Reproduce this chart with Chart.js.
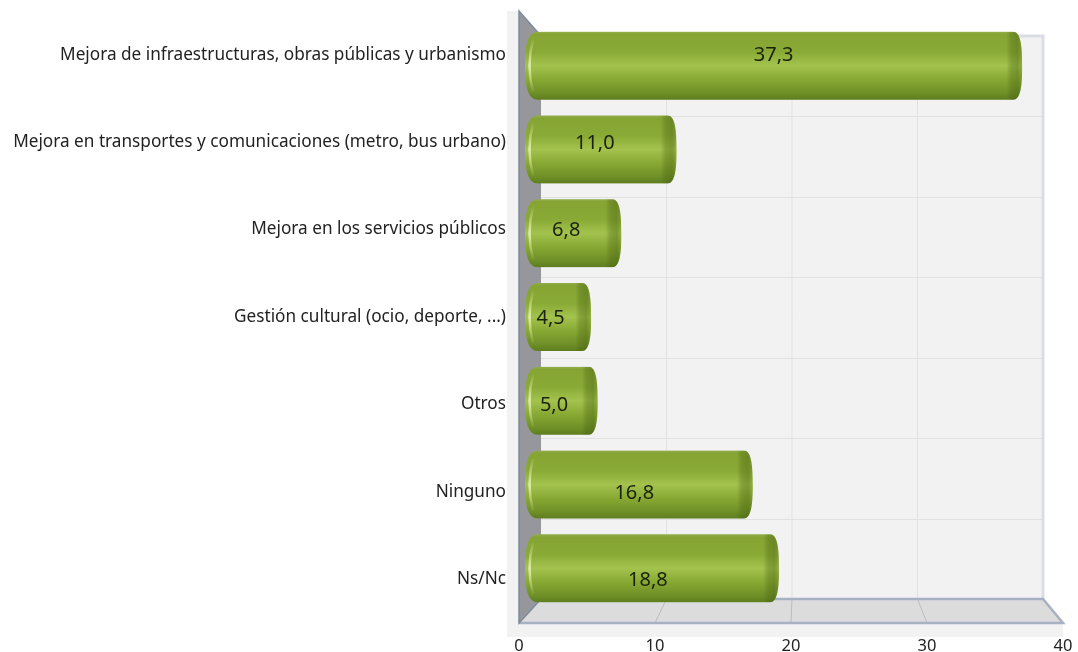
<!DOCTYPE html>
<html lang="es">
<head>
<meta charset="utf-8">
<title>Mejoras</title>
<script src="https://cdn.jsdelivr.net/npm/chart.js@4"></script>
<style>
  html, body { margin: 0; background: #fff; }
  canvas { display: block; }
</style>
</head>
<body>
<canvas id="chart" width="1078" height="652"></canvas>
<script>
"use strict";

// ── Data ────────────────────────────────────────────────────────────────────
const CATEGORIES = [
  "Mejora de infraestructuras, obras públicas y urbanismo",
  "Mejora en transportes y comunicaciones (metro, bus urbano)",
  "Mejora en los servicios públicos",
  "Gestión cultural (ocio, deporte, ...)",
  "Otros",
  "Ninguno",
  "Ns/Nc",
];
const VALUES = [37.3, 11.0, 6.8, 4.5, 5.0, 16.8, 18.8];
const X_MIN = 0;
const X_MAX = 40;
const X_STEP = 10;

// ── Fake 3D box, in canvas pixels ───────────────────────────────────────────
const FONT = "'Noto Sans', sans-serif";
const BOX = { backLeft: 541, backRight: 1043, backTop: 36, backBottom: 599 };
const BAR_THICKNESS = 68;

// the x scale is the front edge of the floor, this maps it onto the back wall
function toBack(x, area) {
  const t = (x - area.left) / (area.right - area.left);
  return BOX.backLeft + t * (BOX.backRight - BOX.backLeft);
}

function capsule(ctx, x0, x1, top, bot) {
  const cy = (top + bot) / 2;
  const h = bot - top;
  const rl = 13, rr = 9;
  ctx.moveTo(x0 + rl, top);
  ctx.lineTo(x1 - rr, top);
  ctx.bezierCurveTo(x1 - rr * 0.2, top, x1, top + h * 0.2, x1, cy);
  ctx.bezierCurveTo(x1, bot - h * 0.2, x1 - rr * 0.2, bot, x1 - rr, bot);
  ctx.lineTo(x0 + rl, bot);
  ctx.bezierCurveTo(x0 + rl * 0.2, bot, x0, bot - h * 0.2, x0, cy);
  ctx.bezierCurveTo(x0, top + h * 0.2, x0 + rl * 0.2, top, x0 + rl, top);
  ctx.closePath();
}

// chart.js adds the tick overhang on top of layout.padding, we want exact edges
function noOverhang(s) {
  s.paddingLeft = s.paddingRight = s.paddingTop = s.paddingBottom = 0;
}

// ── Plugin: walls and floor behind the bars ─────────────────────────────────
const boxPlugin = {
  id: "box",
  beforeDatasetsDraw(chart) {
    const { ctx, chartArea: a, scales } = chart;
    const { backLeft, backRight, backTop, backBottom } = BOX;
    ctx.save();

    // pale strip left of the side wall and under the floor
    ctx.fillStyle = "#f2f2f2";
    ctx.fillRect(507, a.top, a.left - 507, a.bottom - a.top);
    ctx.fillRect(507, a.bottom, a.right - 507, 14);

    // back wall
    ctx.fillStyle = "#f2f2f2";
    ctx.fillRect(backLeft, backTop, backRight - backLeft, backBottom - backTop);

    // horizontal grid on the back wall
    ctx.strokeStyle = "#e1e1e1";
    ctx.lineWidth = 1;
    const rowH = (backBottom - backTop) / CATEGORIES.length;
    for (let i = 1; i < CATEGORIES.length; i++) {
      const y = Math.round(backTop + i * rowH) + 0.5;
      ctx.beginPath();
      ctx.moveTo(backLeft, y);
      ctx.lineTo(backRight, y);
      ctx.stroke();
    }

    // floor
    ctx.fillStyle = "#dcdcdc";
    ctx.beginPath();
    ctx.moveTo(a.left, a.bottom);
    ctx.lineTo(backLeft, backBottom);
    ctx.lineTo(backRight, backBottom);
    ctx.lineTo(a.right, a.bottom);
    ctx.closePath();
    ctx.fill();

    // vertical grid, back wall then down the floor
    scales.x.ticks.forEach(t => {
      if (t.value === X_MIN || t.value === X_MAX) return;
      const front = scales.x.getPixelForValue(t.value);
      const back = toBack(front, a);
      ctx.strokeStyle = "#e1e1e1";
      ctx.beginPath();
      ctx.moveTo(back, backTop);
      ctx.lineTo(back, backBottom);
      ctx.stroke();
      ctx.strokeStyle = "#b9bcc2";
      ctx.beginPath();
      ctx.moveTo(back, backBottom);
      ctx.lineTo(front, a.bottom);
      ctx.stroke();
    });

    // top and right edge of the back wall
    ctx.strokeStyle = "#d8dde6";
    ctx.lineWidth = 3;
    ctx.beginPath();
    ctx.moveTo(backLeft, backTop);
    ctx.lineTo(backRight, backTop);
    ctx.lineTo(backRight, backBottom);
    ctx.stroke();

    // floor edges
    ctx.strokeStyle = "#a8b1c2";
    ctx.lineWidth = 2.5;
    ctx.beginPath();
    ctx.moveTo(backLeft, backBottom);
    ctx.lineTo(backRight, backBottom);
    ctx.lineTo(a.right, a.bottom);
    ctx.lineTo(a.left, a.bottom);
    ctx.stroke();

    // side wall
    ctx.fillStyle = "#96979c";
    ctx.beginPath();
    ctx.moveTo(a.left, a.top);
    ctx.lineTo(backLeft, backTop);
    ctx.lineTo(backLeft, backBottom);
    ctx.lineTo(a.left, a.bottom);
    ctx.closePath();
    ctx.fill();
    ctx.strokeStyle = "#7f8a9c";
    ctx.lineWidth = 1.5;
    ctx.beginPath();
    ctx.moveTo(backLeft, backTop);
    ctx.lineTo(a.left, a.top);
    ctx.lineTo(a.left, a.bottom);
    ctx.lineTo(backLeft, backBottom);
    ctx.stroke();

    ctx.restore();
  },

  // clip the square bars to the cylinder outline
  beforeDatasetDraw(chart, args) {
    const { ctx } = chart;
    ctx.save();
    ctx.beginPath();
    args.meta.data.forEach(bar => {
      capsule(ctx, bar.base, bar.x, bar.y - bar.height / 2, bar.y + bar.height / 2);
    });
    ctx.clip();
  },

  afterDatasetDraw(chart, args) {
    const { ctx } = chart;
    args.meta.data.forEach(bar => {
      const top = bar.y - bar.height / 2;
      const bot = bar.y + bar.height / 2;
      // shaded end of the cylinder
      let g = ctx.createLinearGradient(bar.x - 16, 0, bar.x, 0);
      g.addColorStop(0, "rgba(70,95,15,0)");
      g.addColorStop(0.3, "rgba(70,95,15,0.3)");
      g.addColorStop(0.7, "rgba(70,95,15,0.42)");
      g.addColorStop(1, "rgba(70,95,15,0.15)");
      ctx.fillStyle = g;
      ctx.fillRect(bar.x - 16, top, 16, bar.height);
      // bright rim on the left, fades out towards both corners
      g = ctx.createLinearGradient(0, top + 6, 0, bot - 6);
      g.addColorStop(0, "rgba(235,245,190,0)");
      g.addColorStop(0.5, "rgba(240,248,200,0.8)");
      g.addColorStop(1, "rgba(235,245,190,0)");
      ctx.strokeStyle = g;
      ctx.lineWidth = 2.5;
      ctx.beginPath();
      ctx.moveTo(bar.base + 8, top + 8);
      ctx.quadraticCurveTo(bar.base + 1, bar.y, bar.base + 8, bot - 8);
      ctx.stroke();
    });
    ctx.restore();
  },

  // value labels sit on the front plane, halfway along the bar
  afterDatasetsDraw(chart) {
    const { ctx, scales } = chart;
    ctx.save();
    ctx.font = `20px ${FONT}`;
    ctx.fillStyle = "#1a2208";
    ctx.textAlign = "center";
    ctx.textBaseline = "middle";
    VALUES.forEach((v, i) => {
      const x = scales.x.getPixelForValue(v / 2) + 1;
      const y = scales.y.getPixelForTick(i) + 1;
      ctx.fillText(v.toFixed(1).replace(".", ","), x, y);
    });
    ctx.restore();
  },
};

// ── Bar gradient ────────────────────────────────────────────────────────────
function barFill(c) {
  const { ctx, scales } = c.chart;
  const cy = scales.y2 ? scales.y2.getPixelForValue(c.dataIndex) : NaN;
  if (!Number.isFinite(cy)) return "#8aaa35";  // scales not laid out yet
  const g = ctx.createLinearGradient(0, cy - BAR_THICKNESS / 2, 0, cy + BAR_THICKNESS / 2);
  g.addColorStop(0, "#93ad4c");
  g.addColorStop(0.04, "#85a433");
  g.addColorStop(0.3, "#8aaa36");
  g.addColorStop(0.5, "#a3c24e");
  g.addColorStop(0.72, "#86a632");
  g.addColorStop(0.9, "#6f8f28");
  g.addColorStop(1, "#5e7d1e");
  return g;
}

// ── Chart ───────────────────────────────────────────────────────────────────
new Chart(document.getElementById("chart").getContext("2d"), {
  type: "bar",
  data: {
    labels: CATEGORIES,
    datasets: [{
      data: VALUES.map((v, i) => ({ x: v, y: i })),
      xAxisID: "x2",
      yAxisID: "y2",
      base: -0.534,
      backgroundColor: barFill,
      barThickness: BAR_THICKNESS,
      borderWidth: 0,
    }],
  },
  plugins: [boxPlugin],
  options: {
    indexAxis: "y",
    responsive: false,
    animation: false,
    events: [],
    layout: { padding: { top: 11, right: 15, left: 0, bottom: 0 } },
    plugins: { legend: { display: false }, tooltip: { enabled: false } },
    scales: {
      // labelled axes: the front edge of the box
      x: {
        type: "linear",
        position: "bottom",
        min: X_MIN,
        max: X_MAX,
        grid: { display: false, drawTicks: false },
        border: { display: false },
        ticks: { stepSize: X_STEP, color: "#222", padding: 13, maxRotation: 0, font: { family: FONT, size: 16.5 } },
        afterFit: s => { s.height = 29; noOverhang(s); },
      },
      y: {
        type: "category",
        position: "left",
        grid: { display: false, drawTicks: false },
        border: { display: false },
        ticks: { color: "#222", padding: 13, autoSkip: false, font: { family: FONT, size: 17.2 } },
        afterFit: s => { s.width = 519; noOverhang(s); },
      },
      // hidden axes: the plane halfway into the box where the bars stand
      x2: { type: "linear", display: false, min: -0.992, max: 40.4 },
      y2: { type: "linear", display: false, offset: false, reverse: true, min: -0.652, max: 6.652 },
    },
  },
});
</script>
</body>
</html>
